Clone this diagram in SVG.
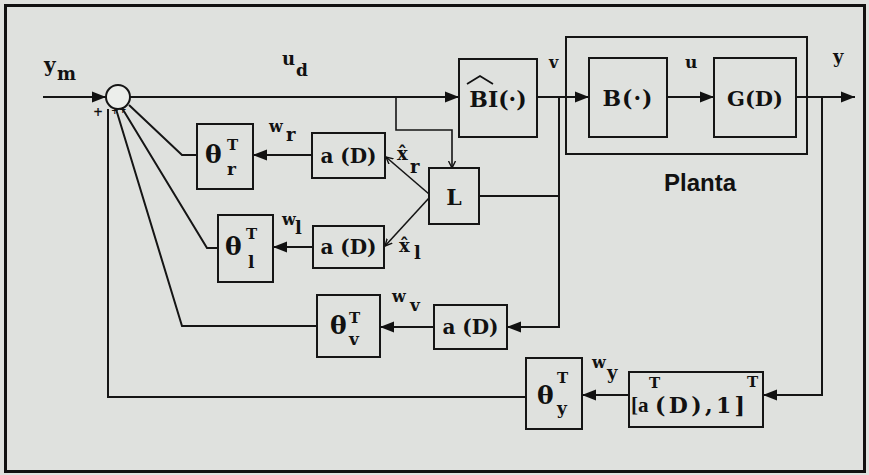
<svg xmlns="http://www.w3.org/2000/svg" width="869" height="475" viewBox="0 0 869 475">
<style>
.bg{fill:#dfe1de}
.box{fill:none;stroke:#151515;stroke-width:2}
.ln{fill:none;stroke:#151515;stroke-width:2}
.thin{fill:none;stroke:#151515;stroke-width:1.6}
.t{font-family:"DejaVu Serif","Liberation Serif",serif;font-weight:bold;fill:#111}
.m{font-size:20px}
.th{font-size:25px}
.s{font-size:15px}
.sub{font-size:17px}
.sans{font-family:"Liberation Sans",Arial,sans-serif;font-weight:bold;fill:#111;font-size:24px}
</style>
<defs>
<marker id="ah" markerUnits="userSpaceOnUse" markerWidth="15" markerHeight="12" refX="14" refY="6" orient="auto">
<path d="M0,0.5 L14,6 L0,11.5 z" fill="#111"/>
</marker>
<marker id="sa" markerUnits="userSpaceOnUse" markerWidth="8" markerHeight="8" refX="7" refY="4" orient="auto">
<path d="M0,0.5 L7,4 L0,7.5" fill="none" stroke="#111" stroke-width="1.4"/>
</marker>
</defs>
<rect class="bg" x="0" y="0" width="869" height="475"/>
<rect x="5.5" y="5.5" width="859" height="466" fill="none" stroke="#111" stroke-width="3"/>

<g id="connectors">
<path class="ln" d="M43,97 L106,97" marker-end="url(#ah)"/>
<path class="ln" d="M130,97 L459,97" marker-end="url(#ah)"/>
<path class="thin" d="M396,97 L396,130 L452,130 L452,168" marker-end="url(#sa)"/>
<path class="ln" d="M537,97 L589,97" marker-end="url(#ah)"/>
<path class="ln" d="M667,97 L714,97" marker-end="url(#ah)"/>
<path class="ln" d="M796,97 L855,97" marker-end="url(#ah)"/>
<path class="ln" d="M822,97 L822,395 L763,395" marker-end="url(#ah)"/>
<path class="ln" d="M629,395 L582,395" marker-end="url(#ah)"/>
<path class="ln" d="M526,397 L108,397 L108,109"/>
<path class="ln" d="M559,97 L559,327 L507,327" marker-end="url(#ah)"/>
<path class="ln" d="M479,196 L559,196"/>
<path class="ln" d="M434,327 L380,327" marker-end="url(#ah)"/>
<path class="ln" d="M317,326 L182,326 L116,109"/>
<path class="thin" d="M429,198 L385,246" marker-end="url(#sa)"/>
<path class="thin" d="M429,194 L386,157" marker-end="url(#sa)"/>
<path class="ln" d="M313,247 L273,247" marker-end="url(#ah)"/>
<path class="ln" d="M218,248 L207,248 L122,108"/>
<path class="ln" d="M312,155 L253,155" marker-end="url(#ah)"/>
<path class="ln" d="M197,155 L182,155 L129,105"/>
</g>

<g id="summer">
<circle cx="118" cy="97" r="12" fill="#eceeeb" stroke="#151515" stroke-width="2"/>
<text class="t" x="93" y="116" font-size="12">+</text>
<text class="t" x="111" y="114" font-size="9">+</text>
<text class="t" x="119" y="113" font-size="9">+</text>
</g>

<g id="labels">
<text class="t" x="44" y="72" font-size="20">y</text>
<text class="t" x="57" y="80" font-size="18">m</text>
<text class="t" x="282" y="65" font-size="18">u</text>
<text class="t" x="296" y="76" font-size="17">d</text>
<text class="t" x="549" y="68" font-size="16">v</text>
<text class="t" x="685" y="68" font-size="17">u</text>
<text class="t" x="833" y="63" font-size="18">y</text>
<text class="t" x="269" y="132" font-size="16">w</text>
<text class="t" x="286" y="141" font-size="18">r</text>
<text class="t" x="282" y="225" font-size="16">w</text>
<text class="t" x="295" y="234" font-size="18">l</text>
<text class="t" x="392" y="302" font-size="16">w</text>
<text class="t" x="410" y="311" font-size="17">v</text>
<text class="t" x="592" y="368" font-size="16">w</text>
<text class="t" x="607" y="379" font-size="18">y</text>
<text class="t" x="397" y="160" font-size="18">x̂</text>
<text class="t" x="410" y="173" font-size="18">r</text>
<text class="t" x="399" y="252" font-size="18">x̂</text>
<text class="t" x="414" y="259" font-size="18">l</text>
</g>

<g id="plant">
<rect class="box" x="566" y="37" width="241" height="117"/>
<text class="sans" x="700" y="191" text-anchor="middle">Planta</text>
</g>

<g id="BI">
<rect class="box" x="459" y="59" width="78" height="78"/>
<text class="t" x="498" y="107" font-size="22" text-anchor="middle">BI(·)</text>
<path d="M467,84 L480,76 L493,84" fill="none" stroke="#111" stroke-width="1.8"/>
</g>

<g id="B">
<rect class="box" x="589" y="58" width="78" height="79"/>
<text class="t" x="628" y="106" font-size="22" text-anchor="middle" letter-spacing="1">B(·)</text>
</g>

<g id="G">
<rect class="box" x="714" y="58" width="82" height="79"/>
<text class="t" x="755" y="106" font-size="21" text-anchor="middle">G(D)</text>
</g>

<g id="L">
<rect class="box" x="429" y="168" width="50" height="56"/>
<text class="t" x="454" y="205" font-size="22" text-anchor="middle">L</text>
</g>

<g id="aD_r">
<rect class="box" x="312" y="133" width="73" height="45"/>
<text class="t m" x="348.5" y="163" text-anchor="middle">a (D)</text>
</g>

<g id="aD_l">
<rect class="box" x="313" y="226" width="71" height="42"/>
<text class="t m" x="348.5" y="254" text-anchor="middle">a (D)</text>
</g>

<g id="aD_v">
<rect class="box" x="434" y="305" width="73" height="44"/>
<text class="t m" x="470.5" y="334" text-anchor="middle">a (D)</text>
</g>

<g id="theta_r">
<rect class="box" x="197" y="124" width="56" height="65"/>
<text class="t th" x="205" y="163">θ</text>
<text class="t s" x="227" y="150">T</text>
<text class="t sub" x="227" y="175">r</text>
</g>

<g id="theta_l">
<rect class="box" x="218" y="215" width="55" height="67"/>
<text class="t th" x="225" y="255">θ</text>
<text class="t s" x="246" y="239">T</text>
<text class="t sub" x="248" y="268">l</text>
</g>

<g id="theta_v">
<rect class="box" x="317" y="295" width="63" height="62"/>
<text class="t th" x="330" y="334">θ</text>
<text class="t s" x="349" y="323">T</text>
<text class="t sub" x="349" y="345">v</text>
</g>

<g id="theta_y">
<rect class="box" x="526" y="358" width="56" height="71"/>
<text class="t th" x="537" y="404">θ</text>
<text class="t s" x="557" y="383">T</text>
<text class="t sub" x="557" y="414">y</text>
</g>

<g id="aT">
<rect class="box" x="629" y="372" width="134" height="55"/>
<text x="631" y="412" font-size="21" font-family="Liberation Serif, serif" font-weight="bold" fill="#111">[a</text>
<text class="t s" x="649" y="388">T</text>
<text class="t" x="655" y="413" font-size="22" textLength="90" lengthAdjust="spacing">(D),1]</text>
<text class="t s" x="747" y="387">T</text>
</g>
</svg>
